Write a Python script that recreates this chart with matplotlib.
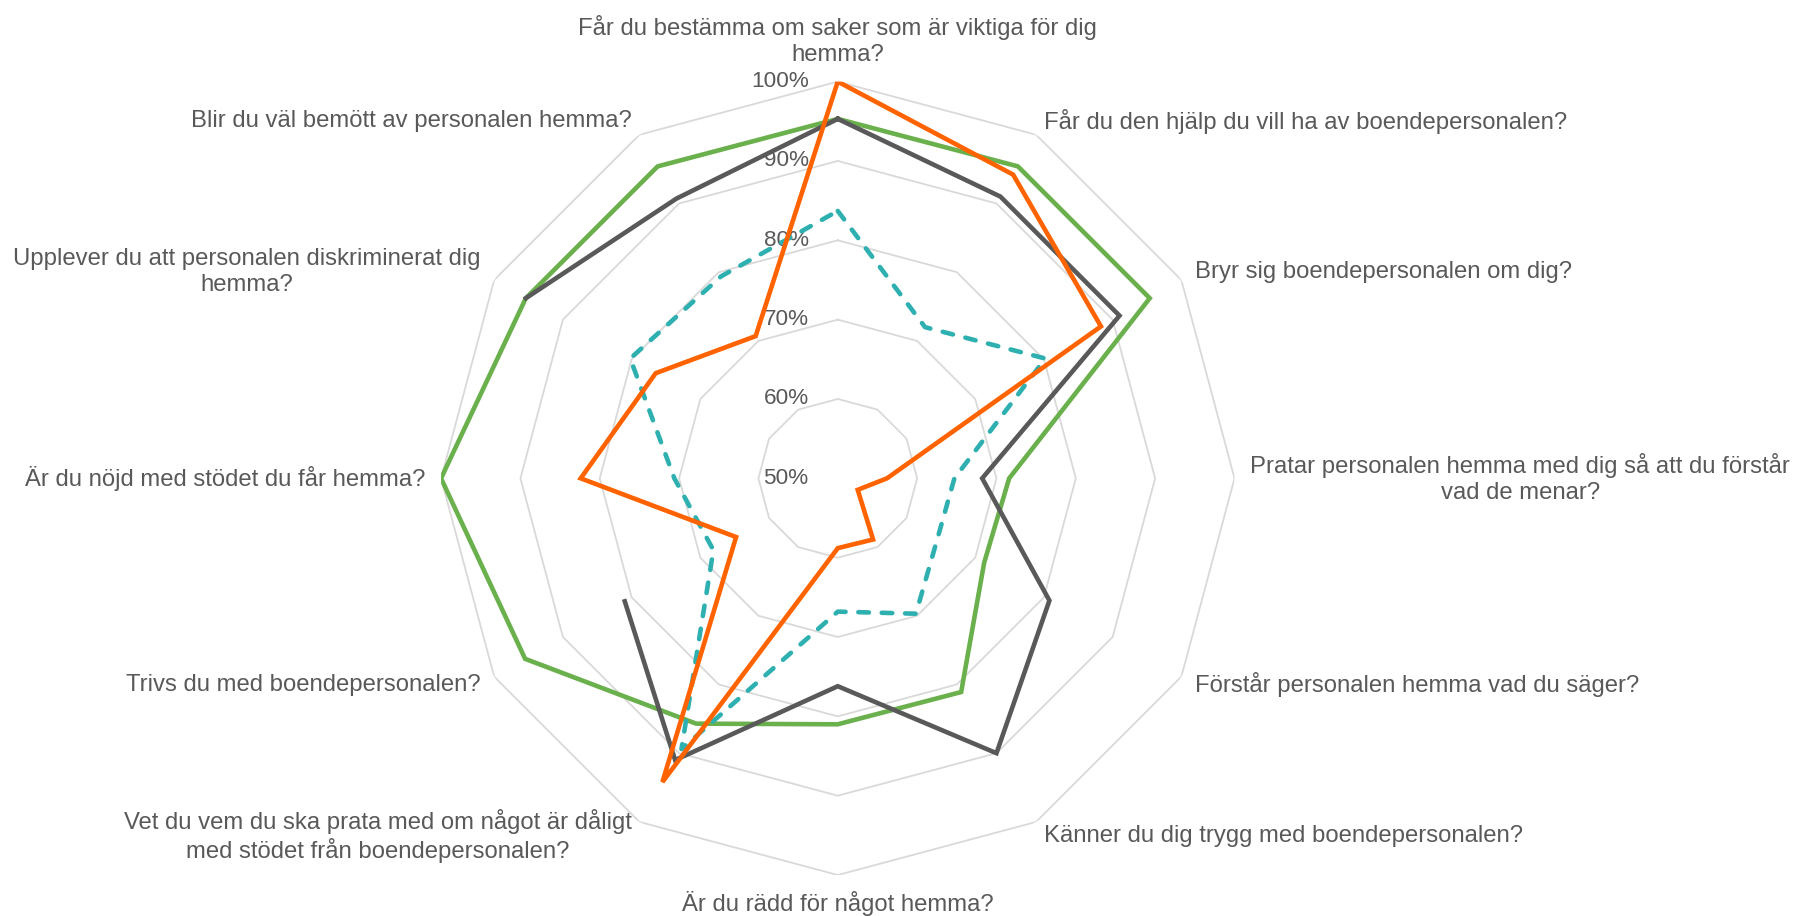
import numpy as np
import matplotlib
matplotlib.use("Agg")
import matplotlib.pyplot as plt

plt.rcParams["font.family"] = ["Liberation Sans", "DejaVu Sans"]

# frågorna, medurs från toppen
categories = [
    "Får du bestämma om saker som är viktiga för dig\nhemma?",
    "Får du den hjälp du vill ha av boendepersonalen?",
    "Bryr sig boendepersonalen om dig?",
    "Pratar personalen hemma med dig så att du förstår\nvad de menar?",
    "Förstår personalen hemma vad du säger?",
    "Känner du dig trygg med boendepersonalen?",
    "Är du rädd för något hemma?",
    "Vet du vem du ska prata med om något är dåligt\nmed stödet från boendepersonalen?",
    "Trivs du med boendepersonalen?",
    "Är du nöjd med stödet du får hemma?",
    "Upplever du att personalen diskriminerat dig\nhemma?",
    "Blir du väl bemött av personalen hemma?",
]

# andel (%) per fråga
serie_gron = [95.3, 95.4, 95.4, 71.6, 71.3, 81.1, 81.0, 85.7, 95.5, 100.0, 95.4, 95.4]
serie_gra = [95.3, 91.0, 91.0, 68.2, 80.8, 90.0, 76.2, 91.0, 81.0, np.nan, 95.4, 90.7]
serie_turkos = [83.7, 72.0, 80.2, 64.7, 64.6, 69.7, 66.8, 89.4, 68.1, 70.6, 80.2, 79.4]
serie_orange = [100.0, 94.2, 88.3, 56.2, 52.9, 58.9, 58.8, 94.2, 64.8, 82.4, 76.5, 70.7]

r_ticks = [50, 60, 70, 80, 90, 100]

TEXT = "#595959"
GRID = "#D9D9D9"

n = len(categories)
theta = np.linspace(0, 2 * np.pi, n, endpoint=False)
theta_closed = np.append(theta, theta[0])


def closed(vals):
    return np.append(vals, vals[0])


fig = plt.figure(figsize=(17.98, 9.16), dpi=100)
ax = fig.add_axes([0.2453, 0.0447, 0.4413, 0.8662], projection="polar")
ax.set_theta_zero_location("N")
ax.set_theta_direction(-1)
ax.set_ylim(50, 100)
ax.grid(False)
ax.spines["polar"].set_visible(False)
ax.set_xticks([])
ax.set_yticks([])
ax.patch.set_alpha(0)

# polygonala stödlinjer
for lev in r_ticks[1:]:
    ax.plot(theta_closed, [lev] * (n + 1), color=GRID, lw=1.3, zorder=1)
for lev in r_ticks:
    ax.annotate(
        f"{lev}%",
        xy=(0, lev),
        xytext=(-21, 0),
        textcoords="offset points",
        ha="right",
        va="center",
        fontsize=16.2,
        color=TEXT,
        zorder=2,
    )

lw = 3.3
ax.plot(theta_closed, closed(serie_gron), color="#6AB04C", lw=lw,
        solid_joinstyle="miter", zorder=3)
ax.plot(theta_closed, closed(serie_gra), color="#595959", lw=lw,
        solid_joinstyle="miter", zorder=4)
ax.plot(theta_closed, closed(serie_turkos), color="#2EAFB0", lw=lw,
        linestyle=(0, (2.3, 2.8)), dash_capstyle="round",
        dash_joinstyle="round", zorder=5)
ax.plot(theta_closed, closed(serie_orange), color="#FF6300", lw=lw,
        solid_joinstyle="miter", zorder=6)

# etiketter runt diagrammet
for ang, lab in zip(theta, categories):
    s, c = np.sin(ang), np.cos(ang)
    if abs(s) < 1e-6:
        ha = "center"
        va = "bottom" if c > 0 else "top"
    else:
        ha = "left" if s > 0 else "right"
        va = "center"
    ax.text(ang, 102, lab, ha=ha, va=va, multialignment="center",
            fontsize=17.2, color=TEXT, clip_on=False)

fig.savefig("out.png", dpi=100)
